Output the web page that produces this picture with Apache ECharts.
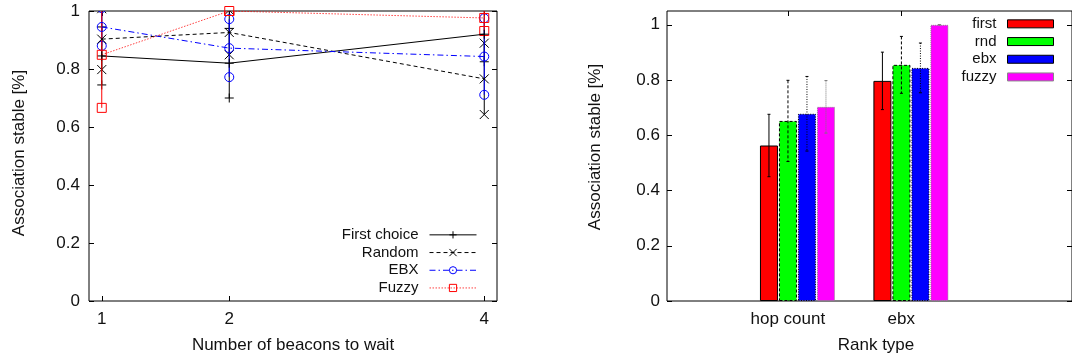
<!DOCTYPE html>
<html><head><meta charset="utf-8">
<script src="https://cdn.jsdelivr.net/npm/echarts@6/dist/echarts.min.js"></script>
<style>html,body{margin:0;padding:0;background:#fff}#c{width:1072px;height:359px}</style>
</head><body><div id="c"></div>
<script>
// ---------- Left chart data ----------
const waitCounts = [1, 2, 4];
const yTicks = [0, 0.2, 0.4, 0.6, 0.8, 1];
const firstMean = [0.845, 0.82, 0.92];
const firstErr = [0.10, 0.12, 0.095];
const randomMean = [0.903, 0.926, 0.766];
const randomErr = [0.105, 0.077, 0.123];
const ebxMean = [0.945, 0.872, 0.843];
const ebxErr = [0.065, 0.10, 0.132];
const fuzzyMean = [0.849, 1.0, 0.976];
const fuzzyErr = [0.183, 0.0, 0.045];

// ---------- Right chart data ----------
const rankTypes = ['hop count', 'ebx'];
const barFirst = [0.563, 0.797];
const barFirstErr = [0.113, 0.104];
const barRnd = [0.652, 0.855];
const barRndErr = [0.147, 0.103];
const barEbx = [0.678, 0.844];
const barEbxErr = [0.135, 0.09];
const barFuzzy = [0.703, 1.0];
const barFuzzyErr = [0.095, 0.0];

const FONT = 'Liberation Sans, Arial, sans-serif';
const BAR_W = 18, BAR_GAP = 1;
const tickShift = 0.085;

function markerShapes(kind, cx, cy, color, s) {
  const h = s / 2;
  const st = { stroke: color, lineWidth: 1, fill: 'none' };
  if (kind === 'plus') return [
    { type: 'line', shape: { x1: cx - h, y1: cy, x2: cx + h, y2: cy }, style: st },
    { type: 'line', shape: { x1: cx, y1: cy - h, x2: cx, y2: cy + h }, style: st }];
  if (kind === 'cross') return [
    { type: 'line', shape: { x1: cx - h, y1: cy - h, x2: cx + h, y2: cy + h }, style: st },
    { type: 'line', shape: { x1: cx - h, y1: cy + h, x2: cx + h, y2: cy - h }, style: st }];
  if (kind === 'circle') return [{ type: 'circle', shape: { cx: cx, cy: cy, r: h }, style: st }];
  return [{ type: 'rect', shape: { x: cx - h, y: cy - h, width: s, height: s }, style: st }];
}

const lineDefs = [
  { name: 'First choice', mean: firstMean, err: firstErr, color: '#000000', type: 'solid', marker: 'plus', symbol: 'path://M0,5L10,5M5,0L5,10' },
  { name: 'Random', mean: randomMean, err: randomErr, color: '#000000', type: [4, 3], marker: 'cross', symbol: 'path://M0,0L10,10M10,0L0,10' },
  { name: 'EBX', mean: ebxMean, err: ebxErr, color: '#0000ff', type: [6, 3, 1.5, 3], marker: 'circle', symbol: 'circle' },
  { name: 'Fuzzy', mean: fuzzyMean, err: fuzzyErr, color: '#ff0000', type: [1.5, 1.5], marker: 'square', symbol: 'rect' }
];

const series = [];
lineDefs.forEach(function (d) {
  series.push({
    name: d.name + ' err', type: 'custom', xAxisIndex: 0, yAxisIndex: 0, clip: true, silent: true,
    data: waitCounts.map(function (x, i) { return [x, d.mean[i], d.err[i]]; }),
    encode: { x: 0, y: 1 },
    renderItem: function (params, api) {
      const x = api.value(0), m = api.value(1), e = api.value(2);
      const top = api.coord([x, m + e]), bot = api.coord([x, m - e]);
      const ch = [{ type: 'line', shape: { x1: top[0], y1: top[1], x2: bot[0], y2: bot[1] }, style: { stroke: d.color, lineWidth: 1 } }];
      return { type: 'group', children: ch.concat(markerShapes(d.marker, top[0], top[1], d.color, 9), markerShapes(d.marker, bot[0], bot[1], d.color, 9)) };
    }
  });
  series.push({
    name: d.name, type: 'line', xAxisIndex: 0, yAxisIndex: 0,
    data: waitCounts.map(function (x, i) { return [x, d.mean[i]]; }),
    symbol: d.symbol, symbolSize: 9, showSymbol: true,
    itemStyle: { color: 'none', borderColor: d.color, borderWidth: 1 },
    lineStyle: { color: d.color, width: 1, type: d.type, opacity: d.name === 'Fuzzy' ? 0.75 : 1 },
    emphasis: { disabled: true }
  });
});

const barDefs = [
  { name: 'first', vals: barFirst, errs: barFirstErr, color: '#ff0000', border: '#000', btype: 'solid', ecol: '#000', etype: 'solid' },
  { name: 'rnd', vals: barRnd, errs: barRndErr, color: '#00ff00', border: '#000', btype: [3, 2], ecol: '#000', etype: [3, 2] },
  { name: 'ebx', vals: barEbx, errs: barEbxErr, color: '#0000ff', border: '#000', btype: [1, 1.5], ecol: '#000', etype: [1, 1.5] },
  { name: 'fuzzy', vals: barFuzzy, errs: barFuzzyErr, color: '#ff00ff', border: '#888', btype: [1, 1], ecol: '#777', etype: [1, 1] }
];
barDefs.forEach(function (d) {
  series.push({
    name: d.name, type: 'bar', xAxisIndex: 2, yAxisIndex: 2,
    data: rankTypes.map(function (_, i) { return [i, d.vals[i]]; }),
    barWidth: BAR_W, barGap: (BAR_GAP / BAR_W * 100) + '%',
    itemStyle: { color: d.color, borderColor: d.border, borderWidth: 1, borderType: d.btype },
    emphasis: { disabled: true }
  });
});
barDefs.forEach(function (d, k) {
  series.push({
    name: d.name + ' err', type: 'custom', xAxisIndex: 2, yAxisIndex: 2, silent: true, z: 3,
    data: rankTypes.map(function (_, i) { return [i, d.vals[i], d.errs[i]]; }),
    encode: { x: 0, y: 1 },
    renderItem: function (params, api) {
      const x = api.value(0), m = api.value(1), e = api.value(2);
      const off = (k - 1.5) * (BAR_W + BAR_GAP);
      const top = api.coord([x, m + e]), bot = api.coord([x, m - e]);
      const cx = top[0] + off;
      const st = { stroke: d.ecol, lineWidth: 1, lineDash: d.etype === 'solid' ? null : d.etype };
      return { type: 'group', children: [
        { type: 'line', shape: { x1: cx, y1: top[1], x2: cx, y2: bot[1] }, style: st },
        { type: 'line', shape: { x1: cx - 1.5, y1: top[1], x2: cx + 1.5, y2: top[1] }, style: { stroke: d.ecol, lineWidth: 1 } },
        { type: 'line', shape: { x1: cx - 1.5, y1: bot[1], x2: cx + 1.5, y2: bot[1] }, style: { stroke: d.ecol, lineWidth: 1 } }
      ] };
    }
  });
});

function tickAxis(extra) {
  return Object.assign({
    axisLine: { show: false, onZero: false }, splitLine: { show: false },
    axisTick: { inside: true, length: 5, lineStyle: { color: '#000' } },
    axisLabel: { show: false }
  }, extra);
}
const rankTickVals = rankTypes.map(function (_, i) { return i - tickShift; });
const labelStyle = { fontSize: 17, color: '#111', fontFamily: FONT };

const option = {
  animation: false,
  backgroundColor: '#fff',
  textStyle: { fontFamily: FONT },
  grid: [
    { left: 89, top: 11, width: 408, height: 290, show: true, borderColor: '#000', borderWidth: 1 },
    { left: 667, top: 11, width: 408, height: 290, show: true, borderColor: '#000', borderWidth: 1 }
  ],
  xAxis: [
    tickAxis({ gridIndex: 0, type: 'value', min: 0.9, max: 4.1, position: 'bottom',
      axisTick: { inside: true, length: 5, customValues: waitCounts, lineStyle: { color: '#000' } },
      axisLabel: Object.assign({ show: true, customValues: waitCounts, margin: 10 }, labelStyle) }),
    tickAxis({ gridIndex: 0, type: 'value', min: 0.9, max: 4.1, position: 'top',
      axisTick: { inside: true, length: 5, customValues: waitCounts, lineStyle: { color: '#000' } } }),
    tickAxis({ gridIndex: 1, type: 'value', min: -1.15, max: 2.42, position: 'bottom',
      axisTick: { inside: true, length: 5, customValues: rankTickVals, lineStyle: { color: '#000' } },
      axisLabel: Object.assign({ show: true, customValues: rankTickVals, margin: 10,
        formatter: function (v) { return rankTypes[Math.round(v + tickShift)]; } }, labelStyle) }),
    tickAxis({ gridIndex: 1, type: 'value', min: -1.15, max: 2.42, position: 'top',
      axisTick: { inside: true, length: 5, customValues: rankTickVals, lineStyle: { color: '#000' } } })
  ],
  yAxis: [
    tickAxis({ gridIndex: 0, type: 'value', min: 0, max: 1, position: 'left',
      axisTick: { inside: true, length: 5, customValues: yTicks, lineStyle: { color: '#000' } },
      axisLabel: Object.assign({ show: true, customValues: yTicks, margin: 9 }, labelStyle) }),
    tickAxis({ gridIndex: 0, type: 'value', min: 0, max: 1, position: 'right',
      axisTick: { inside: true, length: 5, customValues: yTicks, lineStyle: { color: '#000' } } }),
    tickAxis({ gridIndex: 1, type: 'value', min: 0, max: 1.05, position: 'left',
      axisTick: { inside: true, length: 5, customValues: yTicks, lineStyle: { color: '#000' } },
      axisLabel: Object.assign({ show: true, customValues: yTicks, margin: 7 }, labelStyle) }),
    tickAxis({ gridIndex: 1, type: 'value', min: 0, max: 1.05, position: 'right',
      axisTick: { inside: true, length: 5, customValues: yTicks, lineStyle: { color: '#000' } } })
  ],
  legend: [
    { data: lineDefs.map(function (d) { return d.name; }), orient: 'vertical', align: 'right',
      right: 595, top: 226, padding: 0, itemGap: 0, itemWidth: 47, itemHeight: 9,
      selectedMode: false, lineStyle: { width: 1 }, itemStyle: { borderWidth: 1 },
      textStyle: { fontSize: 15, color: '#111', fontFamily: FONT, lineHeight: 17.7, padding: [0, 6, 0, 0] } },
    { data: barDefs.map(function (d) { return d.name; }), orient: 'vertical', align: 'right', icon: 'rect',
      right: 18, top: 15, padding: 0, itemGap: 0, itemWidth: 46, itemHeight: 8,
      selectedMode: false, itemStyle: { borderWidth: 1 },
      textStyle: { fontSize: 15, color: '#111', fontFamily: FONT, lineHeight: 17.7, padding: [0, 6, 0, 0] } }
  ],
  graphic: [
    { type: 'text', x: 293, y: 345, style: { text: 'Number of beacons to wait', font: '17px ' + FONT, fill: '#111', align: 'center', verticalAlign: 'middle' } },
    { type: 'text', x: 876, y: 345, style: { text: 'Rank type', font: '17px ' + FONT, fill: '#111', align: 'center', verticalAlign: 'middle' } },
    { type: 'text', x: 19, y: 153, rotation: Math.PI / 2, style: { text: 'Association stable [%]', font: '17px ' + FONT, fill: '#111', align: 'center', verticalAlign: 'middle' } },
    { type: 'text', x: 595, y: 147, rotation: Math.PI / 2, style: { text: 'Association stable [%]', font: '17px ' + FONT, fill: '#111', align: 'center', verticalAlign: 'middle' } }
  ],
  series: series
};
const chart = echarts.init(document.getElementById('c'), null, { renderer: 'canvas' });
chart.setOption(option);
</script>
</body></html>
